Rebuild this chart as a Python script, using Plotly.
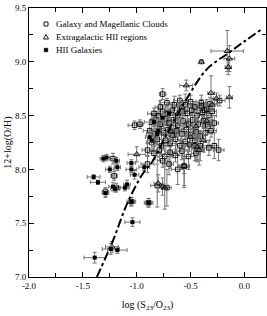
import plotly.graph_objects as go

# ---- Data ----
# Galaxy and Magellanic Clouds (open squares)
gal_x = [-0.78, -0.72, -0.65, -0.60, -0.55, -0.50, -0.46, -0.40, -0.35,
         -0.84, -0.80, -0.76, -0.71, -0.67, -0.62, -0.58, -0.53, -0.49, -0.44, -0.39, -0.33, -0.30,
         -0.86, -0.82, -0.78, -0.74, -0.70, -0.66, -0.62, -0.57, -0.52, -0.48, -0.43, -0.38, -0.34, -0.28,
         -0.88, -0.83, -0.79, -0.75, -0.71, -0.67, -0.63, -0.58, -0.54, -0.50, -0.45, -0.41, -0.36, -0.31,
         -0.86, -0.81, -0.77, -0.73, -0.69, -0.64, -0.60, -0.55, -0.51, -0.46, -0.41, -0.33,
         -0.84, -0.79, -0.74, -0.69, -0.64, -0.58, -0.52, -0.45,
         -0.90, -0.76, -0.70, -0.62, -0.56, -0.28, -0.24, -0.46, -0.44,
         -1.02, -0.97, -0.76, -0.32, -0.23, -0.37, -0.40,
         -1.21, -1.22, -0.90, -0.81, -0.72, -1.29, -1.19, -1.05, -0.89, -0.56]
gal_y = [8.58, 8.62, 8.60, 8.64, 8.60, 8.63, 8.58, 8.62, 8.56,
         8.52, 8.50, 8.54, 8.52, 8.55, 8.50, 8.54, 8.52, 8.55, 8.50, 8.53, 8.50, 8.54,
         8.44, 8.46, 8.42, 8.47, 8.43, 8.46, 8.41, 8.45, 8.42, 8.46, 8.42, 8.45, 8.40, 8.43,
         8.36, 8.33, 8.38, 8.34, 8.37, 8.32, 8.36, 8.33, 8.37, 8.32, 8.35, 8.31, 8.34, 8.36,
         8.25, 8.28, 8.22, 8.27, 8.24, 8.28, 8.22, 8.26, 8.23, 8.27, 8.22, 8.20,
         8.15, 8.18, 8.12, 8.16, 8.13, 8.17, 8.12, 8.15,
         8.05, 8.08, 8.05, 8.00, 8.03, 8.22, 8.18, 8.22, 8.19,
         8.41, 8.42, 8.70, 8.61, 8.64, 8.55, 8.59,
         7.94, 8.10, 8.18, 7.85, 7.83, 7.79, 7.83, 7.70, 7.69, 8.03]
gal_xerr = [0.05, 0.07, 0.04, 0.06, 0.08, 0.05, 0.06, 0.04, 0.07,
            0.06, 0.04, 0.08, 0.05, 0.06, 0.07, 0.04, 0.05, 0.08, 0.06, 0.05, 0.07, 0.04,
            0.07, 0.05, 0.06, 0.04, 0.08, 0.05, 0.06, 0.07, 0.04, 0.05, 0.06, 0.08, 0.05, 0.04,
            0.06, 0.08, 0.05, 0.07, 0.04, 0.06, 0.05, 0.08, 0.06, 0.04, 0.07, 0.05, 0.06, 0.05,
            0.05, 0.06, 0.07, 0.04, 0.06, 0.05, 0.08, 0.04, 0.06, 0.05, 0.07, 0.05,
            0.06, 0.05, 0.07, 0.04, 0.06, 0.05, 0.06, 0.04,
            0.06, 0.05, 0.04, 0.06, 0.05, 0.04, 0.05, 0.04, 0.05,
            0.06, 0.03, 0.03, 0.04, 0.05, 0.04, 0.05,
            0.03, 0.03, 0.05, 0.06, 0.04, 0.03, 0.03, 0.03, 0.03, 0.04]
gal_yerr = [0.06, 0.04, 0.08, 0.05, 0.10, 0.06, 0.05, 0.07, 0.09,
            0.05, 0.07, 0.06, 0.10, 0.05, 0.08, 0.06, 0.12, 0.05, 0.07, 0.06, 0.10, 0.08,
            0.07, 0.05, 0.09, 0.06, 0.05, 0.11, 0.06, 0.07, 0.05, 0.08, 0.10, 0.06, 0.05, 0.07,
            0.06, 0.09, 0.05, 0.07, 0.12, 0.06, 0.05, 0.08, 0.06, 0.10, 0.07, 0.05, 0.09, 0.06,
            0.08, 0.05, 0.10, 0.06, 0.07, 0.12, 0.05, 0.08, 0.06, 0.09, 0.14, 0.07,
            0.06, 0.10, 0.07, 0.15, 0.06, 0.08, 0.12, 0.07,
            0.08, 0.06, 0.10, 0.14, 0.07, 0.12, 0.10, 0.14, 0.12,
            0.04, 0.04, 0.05, 0.06, 0.05, 0.07, 0.06,
            0.04, 0.05, 0.06, 0.20, 0.17, 0.04, 0.04, 0.04, 0.04, 0.18]

# Extragalactic HII regions (open triangles)
hii_x = [-0.16, -0.14, -0.15, -0.40, -0.54, -0.31, -0.26, -0.14,
         -1.00, -0.80, -0.76, -0.56, -0.44, -0.42, -0.74, -1.23,
         -0.62, -0.45, -0.35, -0.50, -0.58, -0.30, -0.68, -0.38]
hii_y = [9.10, 9.03, 8.95, 9.00, 8.78, 8.71, 8.66, 8.67,
         8.14, 7.87, 7.84, 8.03, 8.21, 8.18, 7.83, 7.28,
         8.52, 8.40, 8.45, 8.30, 8.58, 8.60, 8.35, 8.27]
hii_xerr = [0.15, 0.05, 0.03, 0.02, 0.06, 0.03, 0.03, 0.03,
            0.08, 0.04, 0.04, 0.05, 0.04, 0.05, 0.03, 0.06,
            0.05, 0.06, 0.04, 0.05, 0.06, 0.05, 0.04, 0.06]
hii_yerr = [0.19, 0.12, 0.07, 0.02, 0.05, 0.16, 0.05, 0.10,
            0.07, 0.08, 0.08, 0.20, 0.12, 0.14, 0.20, 0.05,
            0.06, 0.08, 0.07, 0.10, 0.05, 0.06, 0.09, 0.11]

# HII Galaxies (filled squares)
hg_x = [-1.31, -1.28, -1.40, -1.36, -1.25, -1.19, -1.18, -1.29, -1.22, -1.20,
        -1.11, -1.09, -1.05, -1.05, -1.02, -0.93, -1.05, -0.89, -1.04, -1.24,
        -1.18, -1.39, -0.86, -0.81, -0.84, -0.80, -0.76, -0.70, -0.88]
hg_y = [8.10, 8.11, 7.93, 7.88, 8.00, 8.08, 8.02, 7.78, 7.84, 7.82,
        7.83, 7.86, 8.06, 8.00, 7.95, 8.02, 7.70, 7.69, 7.51, 7.26,
        7.25, 7.18, 8.27, 8.33, 8.44, 8.36, 8.48, 8.52, 8.30]
hg_xerr = [0.03, 0.03, 0.06, 0.07, 0.04, 0.03, 0.03, 0.03, 0.04, 0.04,
           0.04, 0.03, 0.04, 0.05, 0.04, 0.05, 0.04, 0.04, 0.07, 0.08,
           0.09, 0.10, 0.04, 0.05, 0.04, 0.05, 0.04, 0.05, 0.04]
hg_yerr = [0.03, 0.03, 0.02, 0.02, 0.03, 0.03, 0.03, 0.04, 0.04, 0.03,
           0.03, 0.04, 0.03, 0.03, 0.04, 0.03, 0.04, 0.04, 0.04, 0.05,
           0.03, 0.05, 0.04, 0.05, 0.04, 0.05, 0.04, 0.04, 0.05]

# Calibration curve (dash-dot)
fit_x = [-1.37, -1.22, -1.09, -0.95, -0.85, -0.70, -0.54, -0.35, -0.15, 0.00, 0.17]
fit_y = [7.00, 7.34, 7.68, 7.95, 8.08, 8.37, 8.65, 8.93, 9.08, 9.19, 9.31]

x_ticks = [-2.0, -1.5, -1.0, -0.5, 0.0]
x_tick_labels = ["-2.0", "-1.5", "-1.0", "-0.5", "0.0"]
y_ticks = [7.0, 7.5, 8.0, 8.5, 9.0, 9.5]
y_tick_labels = ["7.0", "7.5", "8.0", "8.5", "9.0", "9.5"]

legend_labels = ["Galaxy and Magellanic Clouds", "Extragalactic HII regions", "HII Galaxies"]

# ---- Figure ----
FONT = "Liberation Serif, Times New Roman, serif"
ERR_COLOR = "#757575"
W, H = 267, 316
ML, MR, MT, MB = 29, 1, 8, 39
PW, PH = W - ML - MR, H - MT - MB

def err(arr):
    return dict(type="data", array=arr, color=ERR_COLOR, thickness=1, width=2)

fig = go.Figure()
fig.add_trace(go.Scatter(
    x=gal_x, y=gal_y, mode="markers", name=legend_labels[0], showlegend=False,
    error_x=err(gal_xerr), error_y=err(gal_yerr),
    marker=dict(symbol="square-open", size=4.5, color="black", line=dict(width=0.9, color="black"))))
fig.add_trace(go.Scatter(
    x=hii_x, y=hii_y, mode="markers", name=legend_labels[1], showlegend=False,
    error_x=err(hii_xerr), error_y=err(hii_yerr),
    marker=dict(symbol="triangle-up-open", size=5.5, color="black", line=dict(width=0.9, color="black"))))
fig.add_trace(go.Scatter(
    x=hg_x, y=hg_y, mode="markers", name=legend_labels[2], showlegend=False,
    error_x=err(hg_xerr), error_y=err(hg_yerr),
    marker=dict(symbol="square", size=4, color="black", line=dict(width=0))))
fig.add_trace(go.Scatter(
    x=fit_x, y=fit_y, mode="lines", showlegend=False, line_shape="spline",
    line=dict(color="black", width=2, dash="dashdot")))

# ---- Hand-made legend (symbol close to its text, as in the reference) ----
def px_to_paper(px, py):
    return (px - ML) / PW, (H - MB - py) / PH

rows_py = [24, 37, 50]
sym_px, txt_px = 46, 54
for i, (lab, py) in enumerate(zip(legend_labels, rows_py)):
    tx, ty = px_to_paper(txt_px, py)
    fig.add_annotation(x=tx, y=ty, xref="paper", yref="paper", text=lab, showarrow=False,
                       xanchor="left", yanchor="middle",
                       font=dict(family=FONT, size=9, color="black"))
    sx, sy = px_to_paper(sym_px, py)
    if i == 0:
        fig.add_shape(type="rect", xref="paper", yref="paper", xsizemode="pixel", ysizemode="pixel",
                      xanchor=sx, yanchor=sy, x0=-2, x1=2, y0=-2, y1=2,
                      line=dict(color="black", width=0.9), fillcolor="rgba(0,0,0,0)")
    elif i == 1:
        fig.add_shape(type="path", xref="paper", yref="paper", xsizemode="pixel", ysizemode="pixel",
                      xanchor=sx, yanchor=sy, path="M -2.5 -2 L 2.5 -2 L 0 2.5 Z",
                      line=dict(color="black", width=0.9), fillcolor="rgba(0,0,0,0)")
    else:
        fig.add_shape(type="rect", xref="paper", yref="paper", xsizemode="pixel", ysizemode="pixel",
                      xanchor=sx, yanchor=sy, x0=-1.8, x1=1.8, y0=-1.8, y1=1.8,
                      line=dict(color="black", width=0.5), fillcolor="black")

axis_common = dict(
    showgrid=False, zeroline=False, showline=True, linecolor="black", linewidth=1,
    mirror="ticks", ticks="inside", ticklen=5, tickwidth=1, tickcolor="black",
    tickfont=dict(family=FONT, size=9, color="black"),
)
fig.update_xaxes(
    range=[-2.0, 0.2], tickvals=x_ticks, ticktext=x_tick_labels,
    minor=dict(dtick=0.25, tick0=-2.0, ticks="inside", ticklen=4, tickcolor="black", showgrid=False),
    title=dict(text="log (S<sub>23</sub>/O<sub>23</sub>)", font=dict(family=FONT, size=10, color="black"), standoff=11),
    **axis_common)
fig.update_yaxes(
    range=[7.0, 9.5], tickvals=y_ticks, ticktext=y_tick_labels,
    minor=dict(dtick=0.25, tick0=7.0, ticks="inside", ticklen=4, tickcolor="black", showgrid=False),
    title=dict(text="12+log(O/H)", font=dict(family=FONT, size=10, color="black"), standoff=1),
    **axis_common)

fig.update_layout(
    width=W, height=H,
    margin=dict(l=ML, r=MR, t=MT, b=MB, autoexpand=False),
    paper_bgcolor="white", plot_bgcolor="white",
    showlegend=False,
)

fig.write_html("out.html", config={"displayModeBar": False},
               post_script="document.body.style.margin='0';document.body.style.overflow='hidden';")
